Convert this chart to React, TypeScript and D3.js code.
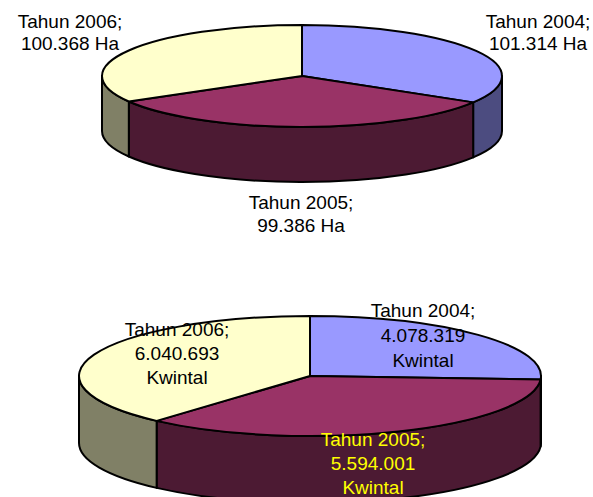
import * as d3 from "d3";
import { useEffect, useRef } from "react";

// data
const years = ["Tahun 2004", "Tahun 2005", "Tahun 2006"];
const areaHa = [101314, 99386, 100368];
const areaText = ["101.314 Ha", "99.386 Ha", "100.368 Ha"];
const prodKw = [4078319, 5594001, 6040693];
const prodText = ["4.078.319", "5.594.001", "6.040.693"];

const topColors = ["#9999FF", "#993366", "#FFFFCC"];
const sideColors = ["#4C4C80", "#4C1A33", "#808066"];

type Pie3D = { cx: number; cy: number; rx: number; ry: number; depth: number };

function drawPie(
  g: d3.Selection<SVGGElement, unknown, null, undefined>,
  values: number[],
  p: Pie3D
) {
  const arcs = d3.pie<number>().sort(null)(values);
  const px = (a: number) => p.cx + p.rx * Math.sin(a);
  const py = (a: number) => p.cy - p.ry * Math.cos(a);

  // side walls, only the front half shows
  arcs.forEach((d, i) => {
    const a0 = Math.max(d.startAngle, Math.PI / 2);
    const a1 = Math.min(d.endAngle, (3 * Math.PI) / 2);
    if (a1 <= a0) return;
    const path =
      `M${px(a0)},${py(a0)}` +
      `A${p.rx},${p.ry} 0 0 1 ${px(a1)},${py(a1)}` +
      `L${px(a1)},${py(a1) + p.depth}` +
      `A${p.rx},${p.ry} 0 0 0 ${px(a0)},${py(a0) + p.depth}Z`;
    g.append("path")
      .attr("d", path)
      .attr("fill", sideColors[i])
      .attr("stroke", "#000")
      .attr("stroke-width", 2)
      .attr("stroke-linejoin", "round");
  });

  // top faces
  arcs.forEach((d, i) => {
    const large = d.endAngle - d.startAngle > Math.PI ? 1 : 0;
    const path =
      `M${p.cx},${p.cy}L${px(d.startAngle)},${py(d.startAngle)}` +
      `A${p.rx},${p.ry} 0 ${large} 1 ${px(d.endAngle)},${py(d.endAngle)}Z`;
    g.append("path")
      .attr("d", path)
      .attr("fill", topColors[i])
      .attr("stroke", "#000")
      .attr("stroke-width", 2)
      .attr("stroke-linejoin", "round");
  });
}

function label(
  g: d3.Selection<SVGGElement, unknown, null, undefined>,
  lines: string[],
  x: number,
  y: number,
  lh: number,
  color = "#000"
) {
  const t = g
    .append("text")
    .attr("text-anchor", "middle")
    .attr("font-family", "'Liberation Sans', Arial, sans-serif")
    .attr("font-size", 19)
    .attr("fill", color);
  lines.forEach((s, i) => {
    t.append("tspan").attr("x", x).attr("y", y + i * lh).text(s);
  });
}

export default function App() {
  const ref = useRef<SVGSVGElement>(null);

  useEffect(() => {
    const svg = d3.select(ref.current);
    svg.selectAll("*").remove();
    const g = svg.append("g");

    // upper pie: harvested area
    drawPie(g, areaHa, { cx: 302, cy: 76, rx: 200, ry: 51, depth: 55 });
    label(g, [years[2] + ";", areaText[2]], 70, 28, 22);
    label(g, [years[0] + ";", areaText[0]], 538, 28, 22);
    label(g, [years[1] + ";", areaText[1]], 301, 209, 23);

    // lower pie: production
    drawPie(g, prodKw, { cx: 310, cy: 376, rx: 231, ry: 60, depth: 67 });
    label(g, [years[0] + ";", prodText[0], "Kwintal"], 423, 317, 25);
    label(g, [years[2] + ";", prodText[2], "Kwintal"], 177, 336, 24);
    label(g, [years[1] + ";", prodText[1], "Kwintal"], 373, 446, 24, "#FFFF00");
  }, []);

  return (
    <svg
      ref={ref}
      width={593}
      height={497}
      style={{ position: "absolute", left: 0, top: 0, background: "#fff" }}
    />
  );
}
